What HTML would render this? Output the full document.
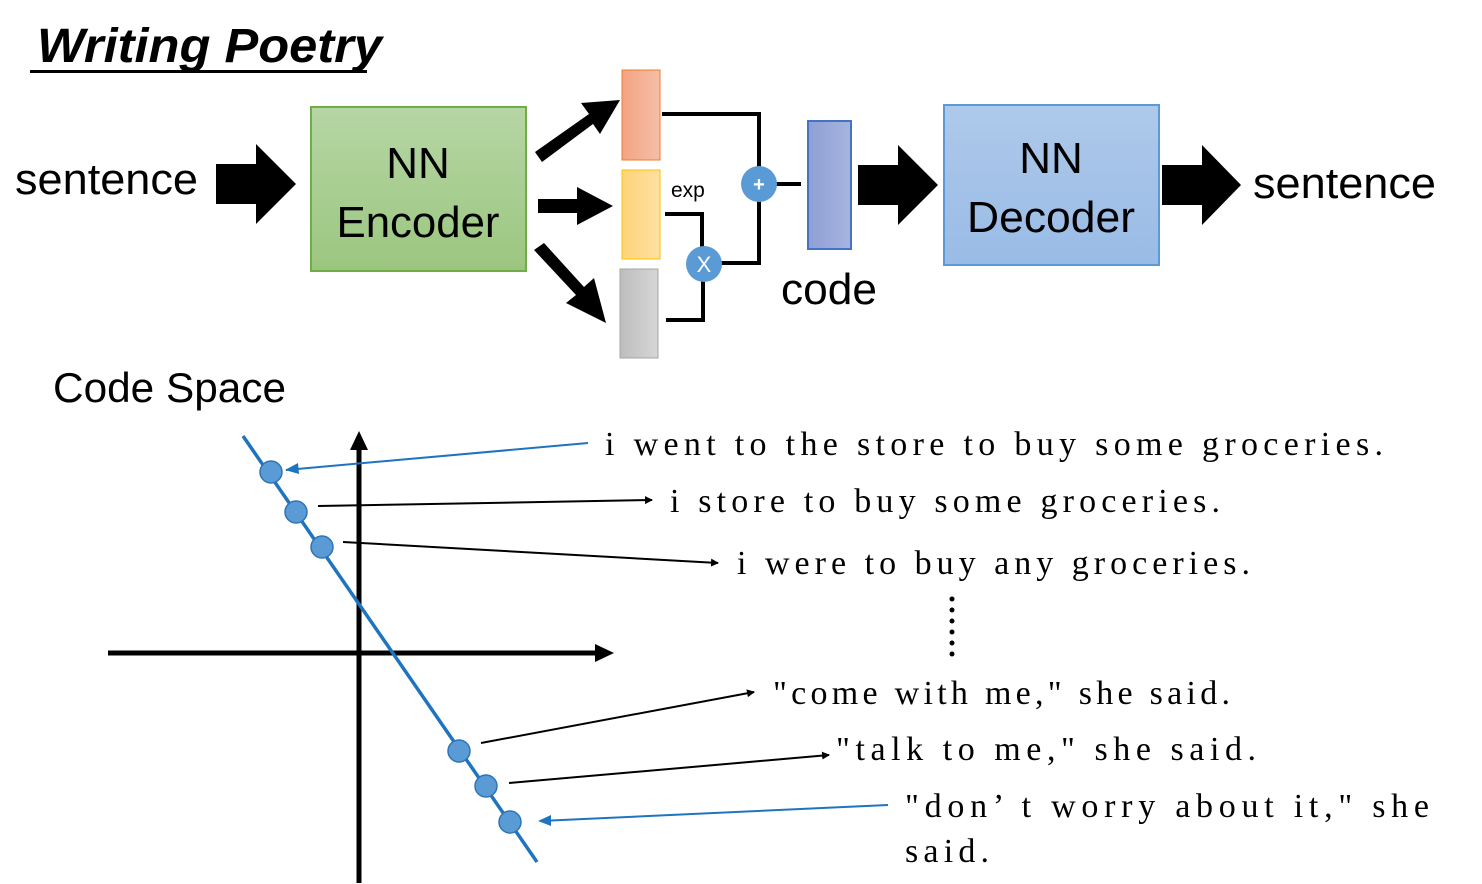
<!DOCTYPE html>
<html><head><meta charset="utf-8"><style>html,body{margin:0;padding:0;background:#fff}svg{display:block}</style></head>
<body>
<svg width="1482" height="884" viewBox="0 0 1482 884" xmlns="http://www.w3.org/2000/svg">
<defs>
<linearGradient id="gEnc" x1="0" y1="0" x2="0" y2="1"><stop offset="0" stop-color="#b6d6a5"/><stop offset="1" stop-color="#9bc67f"/></linearGradient>
<linearGradient id="gDec" x1="0" y1="0" x2="0" y2="1"><stop offset="0" stop-color="#aec9ea"/><stop offset="1" stop-color="#99bbe6"/></linearGradient>
<linearGradient id="gOr" x1="0" y1="0" x2="1" y2="0"><stop offset="0" stop-color="#f4a382"/><stop offset="1" stop-color="#f5bfa7"/></linearGradient>
<linearGradient id="gYe" x1="0" y1="0" x2="1" y2="0"><stop offset="0" stop-color="#fed47a"/><stop offset="1" stop-color="#fee0a3"/></linearGradient>
<linearGradient id="gGr" x1="0" y1="0" x2="1" y2="0"><stop offset="0" stop-color="#bdbdbd"/><stop offset="1" stop-color="#d6d6d6"/></linearGradient>
<linearGradient id="gCo" x1="0" y1="0" x2="1" y2="0"><stop offset="0" stop-color="#8e9fd4"/><stop offset="1" stop-color="#a6b4df"/></linearGradient>
<marker id="ab" markerWidth="8" markerHeight="8" refX="7" refY="4" orient="auto" markerUnits="userSpaceOnUse"><path d="M0,0 L8,4 L0,8z" fill="#000"/></marker>
</defs>
<style>
.s{font-family:"Liberation Sans",sans-serif;fill:#000}
.m{font-family:"Liberation Serif",serif;font-size:34px;fill:#000}
</style>
<text class="s" x="37" y="62" font-size="48" font-weight="bold" font-style="italic" textLength="345" lengthAdjust="spacingAndGlyphs">Writing Poetry</text>
<rect x="30" y="70" width="337" height="3" fill="#000"/>
<text class="s" x="15" y="194" font-size="44" textLength="183" lengthAdjust="spacingAndGlyphs">sentence</text>
<path d="M216,164 H256 V144 L296,184 L256,224 V204 H216z" fill="#000"/>
<rect x="311" y="107" width="215" height="164" fill="url(#gEnc)" stroke="#70ad47" stroke-width="2"/>
<text class="s" x="418" y="178" font-size="44" text-anchor="middle">NN</text>
<text class="s" x="418" y="237" font-size="44" text-anchor="middle" textLength="163" lengthAdjust="spacingAndGlyphs">Encoder</text>
<g fill="#000">
<path d="M535,152 L589,114 L581,103 L620,100 L600,134 L593,124 L542,162z"/>
<path d="M538,199 H577 V187 L613,206 L577,225 V213 H538z"/>
<path d="M544,243 L584,287 L594,278 L606,323 L566,303 L576,295 L534,250z"/>
</g>
<rect x="622" y="70" width="38" height="90" fill="url(#gOr)" stroke="#ed7d31" stroke-width="1"/>
<rect x="622" y="170" width="38" height="89" fill="url(#gYe)" stroke="#ffc000" stroke-width="1"/>
<rect x="620" y="269" width="38" height="89" fill="url(#gGr)" stroke="#a5a5a5" stroke-width="1"/>
<text class="s" x="671" y="197" font-size="21">exp</text>
<g fill="none" stroke="#000" stroke-width="4">
<path d="M662,114 H759 V170"/>
<path d="M759,198 V263 H716"/>
<path d="M665,214 H702 V250"/>
<path d="M666,320 H703 V278"/>
<path d="M775,184 H801"/>
</g>
<circle cx="759" cy="184" r="18" fill="#5b9bd5"/>
<text class="s" x="759" y="191" font-size="20" font-weight="bold" style="fill:#fff" text-anchor="middle">+</text>
<circle cx="704" cy="264" r="18" fill="#5b9bd5"/>
<text class="s" x="704" y="272" font-size="22" style="fill:#fff" text-anchor="middle">X</text>
<rect x="808" y="121" width="43" height="128" fill="url(#gCo)" stroke="#4472c4" stroke-width="2"/>
<text class="s" x="781" y="304" font-size="44" textLength="96" lengthAdjust="spacingAndGlyphs">code</text>
<path d="M858,165 H898 V145 L938,185 L898,225 V205 H858z" fill="#000"/>
<rect x="944" y="105" width="215" height="160" fill="url(#gDec)" stroke="#5b9bd5" stroke-width="2"/>
<text class="s" x="1051" y="173" font-size="44" text-anchor="middle">NN</text>
<text class="s" x="1051" y="232" font-size="44" text-anchor="middle" textLength="168" lengthAdjust="spacingAndGlyphs">Decoder</text>
<path d="M1162,165 H1202 V145 L1241,185 L1202,225 V205 H1162z" fill="#000"/>
<text class="s" x="1253" y="198" font-size="44" textLength="183" lengthAdjust="spacingAndGlyphs">sentence</text>
<text class="s" x="53" y="402" font-size="42" textLength="233" lengthAdjust="spacingAndGlyphs">Code Space</text>
<g stroke="#000" stroke-width="5" fill="#000">
<line x1="359" y1="883" x2="359" y2="448"/>
<line x1="108" y1="653" x2="597" y2="653"/>
</g>
<path d="M359,431 L368,450 L350,450z" fill="#000"/>
<path d="M614,653 L595,644 L595,662z" fill="#000"/>
<line x1="243" y1="436" x2="537" y2="862" stroke="#1f74c0" stroke-width="3.5"/>
<g fill="#5b9bd5" stroke="#2e75b6" stroke-width="1.5">
<circle cx="271" cy="472" r="11"/><circle cx="296" cy="512" r="11"/><circle cx="322" cy="547" r="11"/>
<circle cx="459" cy="751" r="11"/><circle cx="486" cy="786" r="11"/><circle cx="510" cy="822" r="11"/>
</g>
<g stroke-width="2" fill="none">
<line x1="588" y1="443" x2="286" y2="470" stroke="#1f74c0"/>
<line x1="318" y1="506" x2="652" y2="500" stroke="#000" marker-end="url(#ab)"/>
<line x1="343" y1="542" x2="718" y2="563" stroke="#000" marker-end="url(#ab)"/>
<line x1="481" y1="743" x2="754" y2="692" stroke="#000" marker-end="url(#ab)"/>
<line x1="509" y1="783" x2="829" y2="755" stroke="#000" marker-end="url(#ab)"/>
<line x1="888" y1="805" x2="540" y2="821" stroke="#1f74c0"/>
</g>
<path d="M285,470 L298,463 L299,474z" fill="#1f74c0"/>
<path d="M538,821 L551,815 L551,826z" fill="#1f74c0"/>
<text class="m" x="605" y="455" textLength="778" lengthAdjust="spacing">i went to the store to buy some groceries.</text>
<text class="m" x="670" y="512" textLength="550" lengthAdjust="spacing">i store to buy some groceries.</text>
<text class="m" x="737" y="574" textLength="513" lengthAdjust="spacing">i were to buy any groceries.</text>
<g fill="#000"><circle cx="952" cy="599" r="2.5"/><circle cx="952" cy="610" r="2.5"/><circle cx="952" cy="621" r="2.5"/><circle cx="952" cy="632" r="2.5"/><circle cx="952" cy="643" r="2.5"/><circle cx="952" cy="654" r="2.5"/></g>
<text class="m" x="773" y="704" textLength="457" lengthAdjust="spacing">"come with me," she said.</text>
<text class="m" x="836" y="760" textLength="420" lengthAdjust="spacing">"talk to me," she said.</text>
<text class="m" x="905" y="817" textLength="524" lengthAdjust="spacing">"don’ t worry about it," she</text>
<text class="m" x="905" y="862" textLength="84" lengthAdjust="spacing">said.</text>
</svg>
</body></html>
